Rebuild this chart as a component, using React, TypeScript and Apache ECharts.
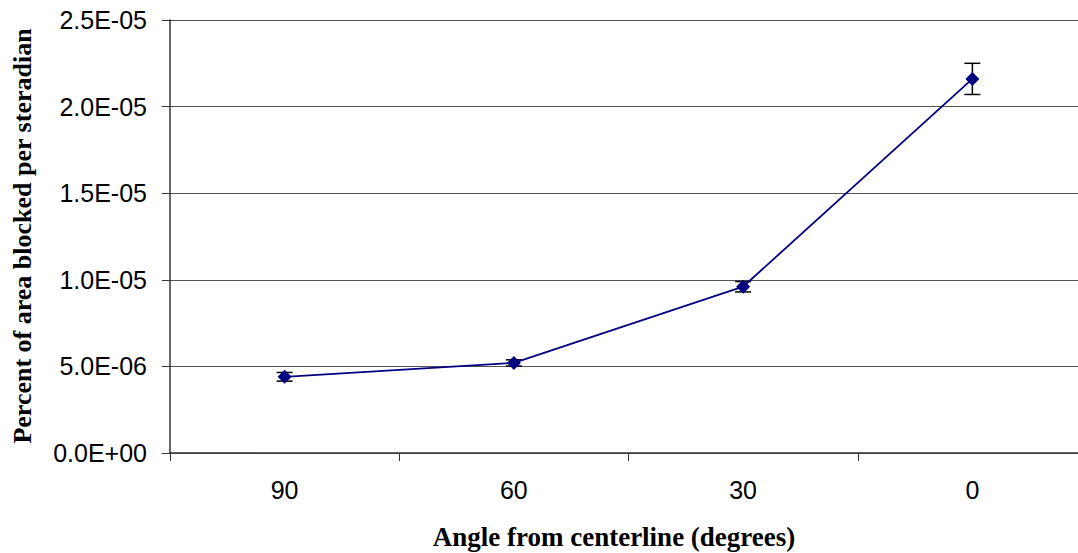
import React, { useEffect, useRef } from "react";
import * as echarts from "echarts";

const categories = ["90", "60", "30", "0"];
const values = [4.4e-6, 5.2e-6, 9.6e-6, 2.16e-5];
const errors = [0.25e-6, 0.18e-6, 0.3e-6, 0.9e-6];
const yTicks = { min: 0, max: 2.5e-5, interval: 5e-6 };
const yAxisTitle = "Percent of area blocked per steradian";
const xAxisTitle = "Angle from centerline (degrees)";

function fmt(v: number): string {
  if (Math.abs(v) < 1e-20) return "0.0E+00";
  const s = v.toExponential(1);
  const [m, e] = s.split("e");
  const n = parseInt(e, 10);
  const sign = n < 0 ? "-" : "+";
  const d = String(Math.abs(n)).padStart(2, "0");
  return m + "E" + sign + d;
}

export default function App() {
  const ref = useRef<HTMLDivElement>(null);
  useEffect(() => {
    if (!ref.current) return;
    const chart = echarts.init(ref.current, undefined, { renderer: "svg" });
    const errData = values.map((v, i) => [i, v - errors[i], v + errors[i]]);
    chart.setOption({
      animation: false,
      grid: {
        left: 170,
        right: -9,
        top: 20,
        bottom: 100,
        containLabel: false,
        outerBoundsMode: "none",
      },
      xAxis: {
        type: "category",
        data: categories,
        boundaryGap: true,
        axisLine: { lineStyle: { color: "#333", width: 1.5 } },
        axisTick: { show: true, length: 8, lineStyle: { color: "#333" }, alignWithLabel: false },
        axisLabel: { fontFamily: "Liberation Sans", fontSize: 25, color: "#000", margin: 24 },
        splitLine: { show: false },
      },
      yAxis: {
        type: "value",
        min: yTicks.min,
        max: yTicks.max,
        interval: yTicks.interval,
        axisLine: { show: true, lineStyle: { color: "#333", width: 1.5 } },
        axisTick: { show: true, length: 8, lineStyle: { color: "#333" } },
        axisLabel: {
          fontFamily: "Liberation Sans",
          fontSize: 25,
          color: "#000",
          margin: 23,
          formatter: (v: number) => fmt(v),
        },
        splitLine: { show: true, lineStyle: { color: "#555", width: 1 } },
      },
      graphic: [
        {
          type: "text",
          x: 22,
          y: 236,
          rotation: Math.PI / 2,
          style: {
            text: yAxisTitle,
            font: "bold 26px 'Liberation Serif'",
            fill: "#000",
            align: "center",
            verticalAlign: "middle",
          },
        },
        {
          type: "text",
          x: 614,
          y: 537,
          style: {
            text: xAxisTitle,
            font: "bold 27px 'Liberation Serif'",
            fill: "#000",
            align: "center",
            verticalAlign: "middle",
          },
        },
      ],
      series: [
        {
          type: "custom",
          z: 1,
          data: errData,
          renderItem: (params: any, api: any) => {
            const x = api.value(0);
            const lo = api.coord([x, api.value(1)]);
            const hi = api.coord([x, api.value(2)]);
            const w = 8;
            const st = { stroke: "#000", lineWidth: 1.5 };
            return {
              type: "group",
              children: [
                { type: "line", shape: { x1: lo[0], y1: lo[1], x2: hi[0], y2: hi[1] }, style: st },
                { type: "line", shape: { x1: lo[0] - w, y1: lo[1], x2: lo[0] + w, y2: lo[1] }, style: st },
                { type: "line", shape: { x1: hi[0] - w, y1: hi[1], x2: hi[0] + w, y2: hi[1] }, style: st },
              ],
            };
          },
        },
        {
          type: "line",
          z: 3,
          data: values,
          symbol: "diamond",
          symbolSize: 14,
          lineStyle: { color: "#000080", width: 1.8 },
          itemStyle: { color: "#000080" },
        },
      ],
    });
    return () => chart.dispose();
  }, []);
  return (
    <div
      ref={ref}
      style={{ position: "absolute", left: 0, top: 0, width: 1078, height: 553, background: "#fff" }}
    />
  );
}
